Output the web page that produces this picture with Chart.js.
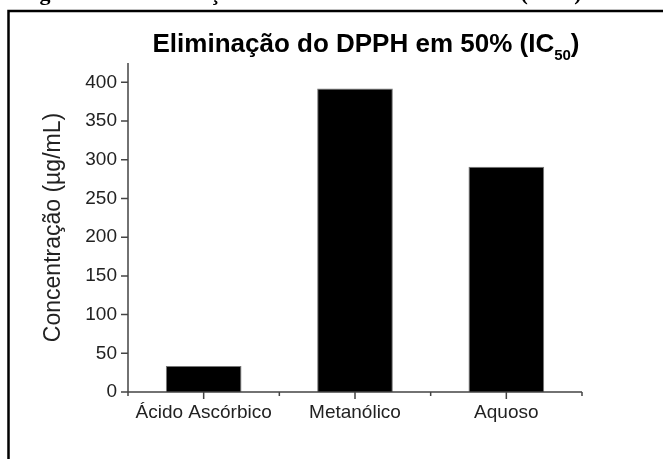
<!DOCTYPE html>
<html><head><meta charset="utf-8">
<script src="https://cdn.jsdelivr.net/npm/chart.js@4"></script>
<style>html,body{margin:0;padding:0;background:#fff}#wrap{width:663px;height:459px}</style>
</head><body><div id="wrap"><canvas id="c"></canvas></div>
<script>
const categories = ['Ácido Ascórbico', 'Metanólico', 'Aquoso'];
const values = [33.5, 392, 291];
const yMin = 0, yMax = 425, yMinorStep = 25, yMajorStep = 50;
const titleMain = 'Eliminação do DPPH em 50% (IC';
const titleSub = '50';
const titleEnd = ')';
const yTitle = 'Concentração (µg/mL)';
const headerText = 'Figura 1. Concentração Inibitória do DPPH em 50% (IC50)';

const deco = {
  id: 'deco',
  afterDraw(chart) {
    const ctx = chart.ctx, ca = chart.chartArea;
    const xs = chart.scales.x, ys = chart.scales.y;
    ctx.save();
    // header (cut off at top)
    ctx.fillStyle = '#000';
    ctx.font = 'bold 22px "Liberation Serif"';
    ctx.textBaseline = 'alphabetic';
    ctx.textAlign = 'left';
    ctx.fillText(headerText, 20, 0);
    // frame
    ctx.strokeStyle = '#000';
    ctx.lineWidth = 2.5;
    ctx.beginPath();
    ctx.moveTo(663, 11); ctx.lineTo(8.5, 11); ctx.lineTo(8.5, 459);
    ctx.stroke();
    // title
    ctx.font = 'bold 26px "Liberation Sans"';
    const w1 = ctx.measureText(titleMain).width;
    ctx.font = 'bold 15px "Liberation Sans"';
    const w2 = ctx.measureText(titleSub).width;
    ctx.font = 'bold 26px "Liberation Sans"';
    const w3 = ctx.measureText(titleEnd).width;
    const total = w1 + w2 + w3;
    let x = 366 - total / 2;
    const base = 52;
    ctx.fillText(titleMain, x, base); x += w1;
    ctx.font = 'bold 15px "Liberation Sans"';
    ctx.fillText(titleSub, x, base + 8); x += w2;
    ctx.font = 'bold 26px "Liberation Sans"';
    ctx.fillText(titleEnd, x, base);
    // axes
    ctx.strokeStyle = '#444';
    ctx.lineWidth = 1.5;
    ctx.beginPath();
    ctx.moveTo(ca.left, ca.top); ctx.lineTo(ca.left, ca.bottom); ctx.lineTo(ca.right, ca.bottom);
    // y ticks
    ys.ticks.forEach(t => {
      const py = ys.getPixelForValue(t.value);
      const len = (t.value % yMajorStep === 0) ? 7 : 4;
      ctx.moveTo(ca.left, py); ctx.lineTo(ca.left - len, py);
    });
    // x ticks
    for (let i = 0; i < categories.length; i++) {
      const px = xs.getPixelForValue(i);
      ctx.moveTo(px, ca.bottom); ctx.lineTo(px, ca.bottom + 7);
    }
    for (let i = 0; i <= categories.length; i++) {
      const px = xs.getPixelForValue(i - 0.5);
      ctx.moveTo(px, ca.bottom); ctx.lineTo(px, ca.bottom + 4);
    }
    ctx.stroke();
    ctx.restore();
  }
};

new Chart(document.getElementById('c'), {
  type: 'bar',
  data: {
    labels: categories,
    datasets: [{
      data: values,
      backgroundColor: '#000',
      borderColor: '#777',
      borderWidth: 1,
      barPercentage: 0.5,
      categoryPercentage: 1.0
    }]
  },
  options: {
    responsive: true,
    maintainAspectRatio: false,
    animation: false,
    devicePixelRatio: 1,
    layout: { padding: { left: 30, top: 63, right: 81, bottom: 37 } },
    plugins: { legend: { display: false }, title: { display: false }, tooltip: { enabled: false } },
    scales: {
      x: {
        grid: { display: false, drawTicks: false },
        border: { display: false },
        ticks: { color: '#222', font: { family: 'Liberation Sans', size: 19 }, padding: 9, maxRotation: 0, autoSkip: false },
        afterFit(s) { s.height = 30; }
      },
      y: {
        min: yMin, max: yMax,
        grid: { display: false, drawTicks: false },
        border: { display: false },
        ticks: {
          stepSize: yMinorStep,
          color: '#222',
          font: { family: 'Liberation Sans', size: 19 },
          padding: 11,
          callback: v => (v % yMajorStep === 0 && v <= 400) ? String(v) : ''
        },
        title: {
          display: true, text: yTitle, color: '#222',
          font: { family: 'Liberation Sans', size: 23 },
          padding: { top: 10, bottom: 0 }
        },
        afterFit(s) { s.width = 98; }
      }
    }
  },
  plugins: [deco]
});
</script>
</body></html>
